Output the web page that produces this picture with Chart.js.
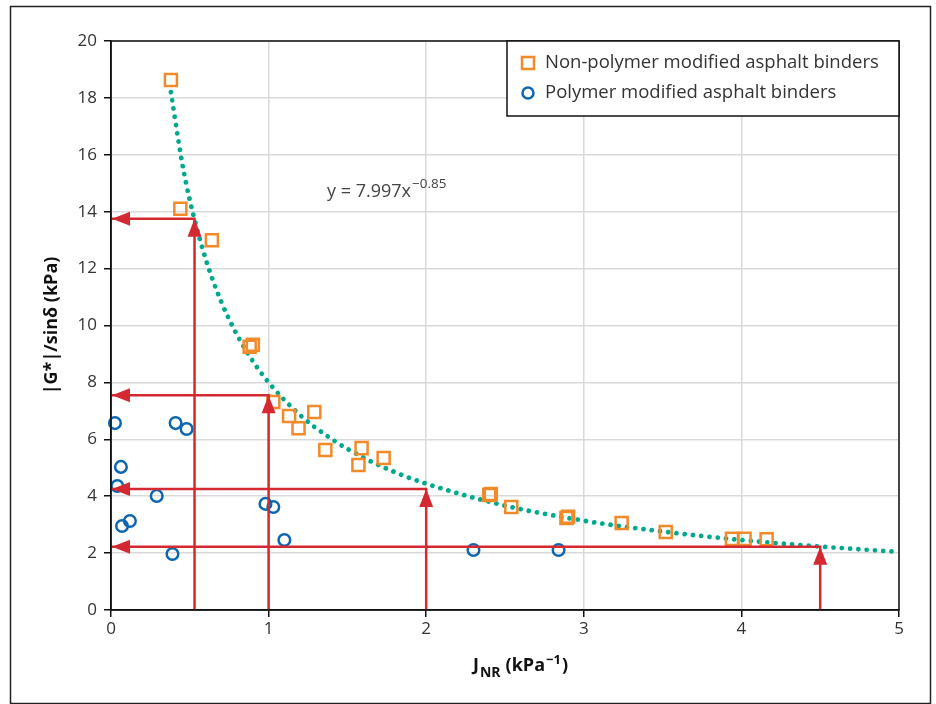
<!DOCTYPE html>
<html>
<head>
<meta charset="utf-8">
<script src="https://cdn.jsdelivr.net/npm/chart.js@4.4.1/dist/chart.umd.min.js"></script>
<style>
  html, body { margin: 0; padding: 0; background: #fff; }
  #wrap { position: relative; width: 936px; height: 704px; }
</style>
</head>
<body>
<div id="wrap"><canvas id="chart" width="936" height="704"></canvas></div>
<script>
// Non-polymer modified binders (orange squares)
const nonPolyX = [0.38, 0.44, 0.64, 0.88, 0.90, 1.03, 1.13, 1.19, 1.29, 1.36, 1.59, 1.57, 1.73, 2.40, 2.41, 2.54, 2.89, 2.90, 3.24, 3.52, 3.94, 4.02, 4.16];
const nonPolyY = [18.63, 14.1, 13.0, 9.25, 9.32, 7.31, 6.82, 6.39, 6.96, 5.62, 5.69, 5.1, 5.34, 4.04, 4.08, 3.62, 3.23, 3.28, 3.06, 2.74, 2.5, 2.5, 2.49];

// Polymer modified binders (blue circles)
const polyX = [0.025, 0.41, 0.48, 0.063, 0.04, 0.29, 0.98, 1.03, 0.07, 0.12, 1.10, 0.39, 2.30, 2.84];
const polyY = [6.57, 6.57, 6.36, 5.03, 4.36, 4.01, 3.73, 3.62, 2.95, 3.13, 2.46, 1.97, 2.11, 2.11];

// Power trend line
const fitX = [0.38, 0.45, 0.5, 0.6, 0.7, 0.8, 0.9, 1, 1.2, 1.4, 1.6, 1.8, 2, 2.5, 3, 3.5, 4, 4.5, 5];
const fitY = [18.2, 15.76, 14.41, 12.35, 10.83, 9.67, 8.75, 8.0, 6.85, 6.01, 5.36, 4.85, 4.44, 3.67, 3.14, 2.76, 2.46, 2.23, 2.04];

// Red reading arrows: up from J_NR, then left to the axis
const arrowX = [0.53, 1, 2, 4.5];
const arrowY = [13.75, 7.55, 4.25, 2.22];

const xTicks = [0, 1, 2, 3, 4, 5];
const yTicks = [0, 2, 4, 6, 8, 10, 12, 14, 16, 18, 20];

const ORANGE = '#f28a2a';
const BLUE = '#0d66b0';
const TEAL = '#00a88c';
const RED = '#d52932';
const FONT = '"Open Sans", "Noto Sans", sans-serif';

function pts(xs, ys) {
  return xs.map((x, i) => ({ x: x, y: ys[i] }));
}

const arrowSets = arrowX.map((ax, i) => ({
  type: 'line',
  data: [{ x: ax, y: 0 }, { x: ax, y: arrowY[i] }, { x: 0, y: arrowY[i] }],
  borderColor: RED,
  borderWidth: 2.5,
  pointRadius: 0,
  tension: 0,
  clip: false,
  order: 0
}));

const extras = {
  id: 'extras',
  beforeDraw(chart) {
    const ctx = chart.ctx;
    ctx.save();
    ctx.fillStyle = '#fff';
    ctx.fillRect(0, 0, chart.width, chart.height);
    ctx.strokeStyle = '#222';
    ctx.lineWidth = 1.5;
    ctx.strokeRect(10.5, 6.5, 920, 697);
    ctx.restore();
  },
  afterDatasetsDraw(chart) {
    const ctx = chart.ctx;
    const xs = chart.scales.x, ys = chart.scales.y;
    const a = chart.chartArea;
    ctx.save();

    // arrowheads
    ctx.fillStyle = RED;
    arrowX.forEach((ax, i) => {
      const px = xs.getPixelForValue(ax);
      const py = ys.getPixelForValue(arrowY[i]);
      ctx.beginPath();
      ctx.moveTo(px, py);
      ctx.lineTo(px - 7, py + 18);
      ctx.lineTo(px + 7, py + 18);
      ctx.closePath();
      ctx.fill();
      const x0 = xs.getPixelForValue(0) + 1;
      ctx.beginPath();
      ctx.moveTo(x0, py);
      ctx.lineTo(x0 + 18, py - 7);
      ctx.lineTo(x0 + 18, py + 7);
      ctx.closePath();
      ctx.fill();
    });

    // plot frame
    ctx.strokeStyle = '#111';
    ctx.lineWidth = 1.5;
    ctx.strokeRect(a.left, a.top, a.right - a.left, a.bottom - a.top);

    // legend box
    const lx = 507, ly = a.top, lw = a.right - 507, lh = 75;
    ctx.fillStyle = '#fff';
    ctx.fillRect(lx, ly, lw, lh);
    ctx.strokeRect(lx, ly, lw, lh);
    ctx.lineWidth = 2.5;
    ctx.strokeStyle = ORANGE;
    ctx.strokeRect(522, 57, 12, 12);
    ctx.strokeStyle = BLUE;
    ctx.beginPath();
    ctx.arc(528, 93, 5.5, 0, Math.PI * 2);
    ctx.stroke();
    ctx.fillStyle = '#333';
    ctx.font = '18.5px ' + FONT;
    ctx.textBaseline = 'middle';
    ctx.textAlign = 'left';
    ctx.fillText('Non-polymer modified asphalt binders', 545, 63);
    ctx.fillText('Polymer modified asphalt binders', 545, 93);

    // equation
    ctx.fillStyle = '#444';
    ctx.textBaseline = 'alphabetic';
    ctx.font = '18px ' + FONT;
    const eq = 'y = 7.997x';
    ctx.fillText(eq, 327, 197);
    const ew = ctx.measureText(eq).width;
    ctx.font = '13.5px ' + FONT;
    ctx.fillText('\u22120.85', 327 + ew + 1, 188);

    // x axis title
    ctx.fillStyle = '#111';
    let tx = 473;
    ctx.font = 'bold 18px ' + FONT;
    ctx.fillText('J', tx, 671);
    tx += ctx.measureText('J').width + 1;
    ctx.font = 'bold 14px ' + FONT;
    ctx.fillText('NR', tx, 677);
    tx += ctx.measureText('NR').width + 5;
    ctx.font = 'bold 18px ' + FONT;
    ctx.fillText('(kPa', tx, 671);
    tx += ctx.measureText('(kPa').width + 1;
    ctx.font = 'bold 13px ' + FONT;
    ctx.fillText('\u22121', tx, 664);
    tx += ctx.measureText('\u22121').width + 1;
    ctx.font = 'bold 18px ' + FONT;
    ctx.fillText(')', tx, 671);

    // y axis title
    ctx.translate(52, (a.top + a.bottom) / 2);
    ctx.rotate(-Math.PI / 2);
    ctx.textAlign = 'center';
    ctx.textBaseline = 'middle';
    ctx.font = 'bold 18px ' + FONT;
    ctx.fillText('|G*|/sin\u03b4 (kPa)', 0, 0);

    ctx.restore();
  }
};

new Chart(document.getElementById('chart'), {
  type: 'scatter',
  data: {
    datasets: arrowSets.concat([
      {
        label: 'Non-polymer modified asphalt binders',
        data: pts(nonPolyX, nonPolyY),
        pointStyle: 'rect',
        pointRadius: 8.5,
        pointBorderWidth: 2.5,
        pointBorderColor: ORANGE,
        pointBackgroundColor: 'rgba(255,255,255,0)',
        clip: false,
        order: 1
      },
      {
        label: 'Polymer modified asphalt binders',
        data: pts(polyX, polyY),
        pointStyle: 'circle',
        pointRadius: 5.8,
        pointBorderWidth: 2.5,
        pointBorderColor: BLUE,
        pointBackgroundColor: 'rgba(255,255,255,0)',
        clip: false,
        order: 2
      },
      {
        type: 'line',
        label: 'fit',
        data: pts(fitX, fitY),
        borderColor: TEAL,
        borderWidth: 4.8,
        borderDash: [0.001, 8.3],
        borderCapStyle: 'round',
        cubicInterpolationMode: 'monotone',
        pointRadius: 0,
        clip: false,
        order: 3
      }
    ])
  },
  options: {
    responsive: false,
    animation: false,
    devicePixelRatio: 1,
    layout: { padding: { left: 0, right: 37, top: 41, bottom: 0 } },
    plugins: { legend: { display: false }, tooltip: { enabled: false } },
    scales: {
      x: {
        type: 'linear',
        min: 0,
        max: 5,
        afterFit(s) { s.height = 94; },
        afterBuildTicks(s) { s.ticks = xTicks.map(v => ({ value: v })); },
        grid: { color: '#d9d9d9', lineWidth: 1.5, tickColor: '#111', tickLength: 7, tickWidth: 1.5 },
        border: { color: '#111', width: 1.5 },
        ticks: { color: '#333', padding: 2, font: { family: FONT, size: 17 } }
      },
      y: {
        type: 'linear',
        min: 0,
        max: 20,
        afterFit(s) { s.width = 111; },
        afterBuildTicks(s) { s.ticks = yTicks.map(v => ({ value: v })); },
        grid: { color: '#d9d9d9', lineWidth: 1.5, tickColor: '#111', tickLength: 7, tickWidth: 1.5 },
        border: { color: '#111', width: 1.5 },
        ticks: { color: '#333', padding: 7, font: { family: FONT, size: 17 } }
      }
    }
  },
  plugins: [extras]
});
</script>
</body>
</html>
